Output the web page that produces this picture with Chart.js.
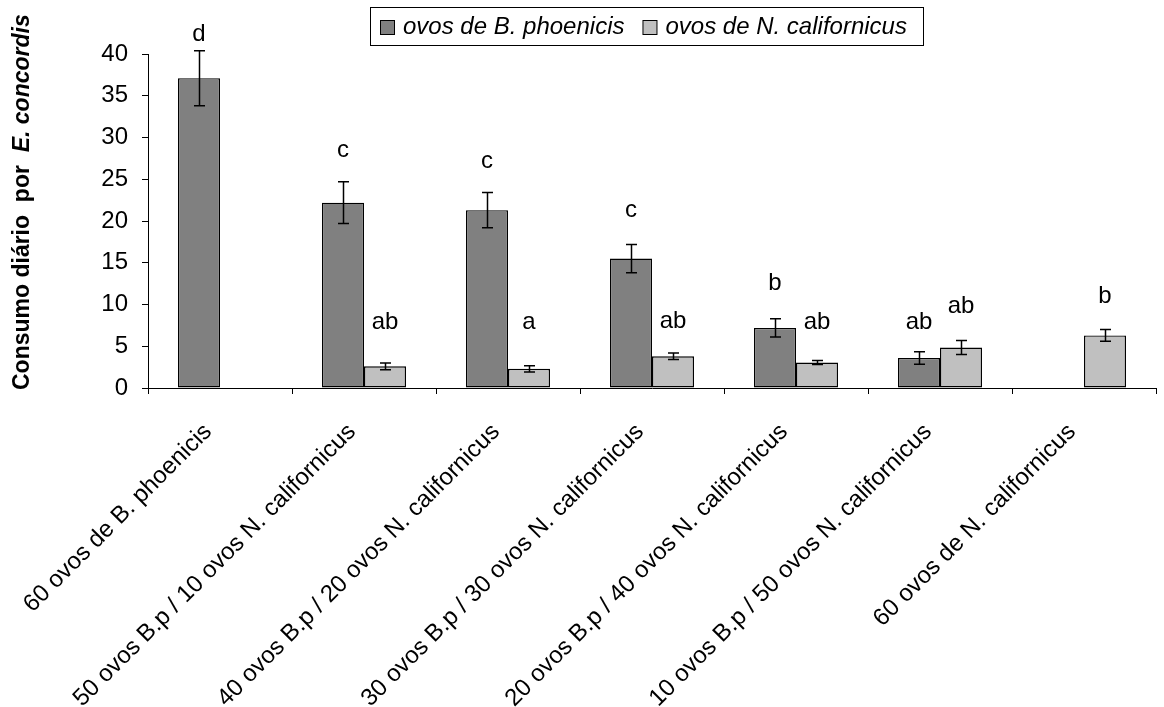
<!DOCTYPE html>
<html>
<head>
<meta charset="utf-8">
<script src="https://cdn.jsdelivr.net/npm/chart.js@4.4.1/dist/chart.umd.min.js"></script>
<style>
html,body{margin:0;padding:0;background:#fff;}
#wrap{width:1164px;height:707px;position:relative;}
</style>
</head>
<body>
<div id="wrap"><canvas id="c" width="1164" height="707"></canvas></div>
<script>
// ---- data ----
const categories = [
  "60 ovos de B. phoenicis",
  "50 ovos B.p / 10 ovos N. californicus",
  "40 ovos B.p / 20 ovos N. californicus",
  "30 ovos B.p / 30 ovos N. californicus",
  "20 ovos B.p / 40 ovos N. californicus",
  "10 ovos B.p / 50 ovos N. californicus",
  "60 ovos de N. californicus"
];
const seriesNames = ["ovos de B. phoenicis", "ovos de N. californicus"];
const bpValues = [37.1, 22.2, 21.3, 15.5, 7.2, 3.6, 0];
const bpErrors = [3.3, 2.5, 2.1, 1.7, 1.1, 0.75, 0];
const ncValues = [0, 2.6, 2.3, 3.8, 3.05, 4.85, 6.3];
const ncErrors = [0, 0.4, 0.37, 0.38, 0.25, 0.85, 0.7];
const bpLetters = ["d", "c", "c", "c", "b", "ab", ""];
const bpLetterY = [42.4, 28.4, 27.2, 21.3, 12.5, 7.9, null];
const ncLetters = ["", "ab", "a", "ab", "ab", "ab", "b"];
const ncLetterY = [null, 7.8, 7.8, 8.0, 7.9, 9.8, 11.0];
const yTicks = [0, 5, 10, 15, 20, 25, 30, 35, 40];
const yTitleMain = "Consumo diário  por  ";
const yTitleItalic = "E. concordis";

const FONT = "'Liberation Sans', Arial, sans-serif";
const DARK = "#808080", LIGHT = "#c0c0c0";

const errorsBySeries = [bpErrors, ncErrors];
const lettersBySeries = [bpLetters, ncLetters];
const letterYBySeries = [bpLetterY, ncLetterY];

const extras = {
  id: 'extras',
  afterDatasetsDraw(chart) {
    const ctx = chart.ctx;
    const ys = chart.scales.y;
    ctx.save();
    // error bars
    chart.data.datasets.forEach((ds, i) => {
      const meta = chart.getDatasetMeta(i);
      meta.data.forEach((el, j) => {
        const e = errorsBySeries[i][j];
        if (!e) return;
        const v = ds.data[j];
        const yt = ys.getPixelForValue(v + e), yb = ys.getPixelForValue(v - e);
        const x = Math.round(el.x) + 0.5;
        ctx.strokeStyle = '#000';
        ctx.lineWidth = 1.5;
        ctx.beginPath();
        ctx.moveTo(x, yt); ctx.lineTo(x, yb);
        ctx.moveTo(x - 5.5, yt); ctx.lineTo(x + 5.5, yt);
        ctx.moveTo(x - 5.5, yb); ctx.lineTo(x + 5.5, yb);
        ctx.stroke();
      });
    });
    // letters
    ctx.fillStyle = '#000';
    ctx.font = "24px " + FONT;
    ctx.textAlign = 'center';
    ctx.textBaseline = 'middle';
    chart.data.datasets.forEach((ds, i) => {
      const meta = chart.getDatasetMeta(i);
      meta.data.forEach((el, j) => {
        const t = lettersBySeries[i][j];
        const ly = letterYBySeries[i][j];
        if (!t || ly == null) return;
        ctx.fillText(t, el.x, ys.getPixelForValue(ly));
      });
    });
    ctx.restore();
  },
  afterDraw(chart) {
    const ctx = chart.ctx;
    ctx.save();
    // y-axis title (mixed style)
    ctx.translate(23, 390);
    ctx.rotate(-Math.PI / 2);
    ctx.textBaseline = 'middle';
    ctx.textAlign = 'left';
    ctx.fillStyle = '#000';
    ctx.font = "bold 23px " + FONT;
    ctx.fillText(yTitleMain, 0, 0);
    const w1 = ctx.measureText(yTitleMain).width;
    ctx.font = "italic bold 23px " + FONT;
    ctx.fillText(yTitleItalic, w1, 0);
    ctx.restore();

    // legend
    ctx.save();
    ctx.font = "italic 24px " + FONT;
    const sq = 14, padL = 10, padR = 16, gapT = 9, gapI = 18;
    const tw = seriesNames.map(s => ctx.measureText(s).width);
    const totalW = padL + sq + gapT + tw[0] + gapI + sq + gapT + tw[1] + padR;
    const left = 370, top = 7, h = 38;
    ctx.strokeStyle = '#000';
    ctx.lineWidth = 1;
    ctx.strokeRect(left + 0.5, top + 0.5, Math.round(totalW), h);
    let x = left + padL;
    const cy = top + h / 2 + 1;
    const cols = [DARK, LIGHT];
    seriesNames.forEach((s, i) => {
      ctx.fillStyle = cols[i];
      ctx.fillRect(x + 0.5, cy - sq / 2 + 0.5, sq, sq);
      ctx.strokeRect(x + 0.5, cy - sq / 2 + 0.5, sq, sq);
      x += sq + gapT;
      ctx.fillStyle = '#000';
      ctx.textBaseline = 'middle';
      ctx.fillText(s, x, cy);
      x += tw[i] + gapI;
    });
    ctx.restore();
  }
};

new Chart(document.getElementById('c'), {
  type: 'bar',
  data: {
    labels: categories,
    datasets: [
      { label: seriesNames[0], data: bpValues, backgroundColor: DARK, borderColor: '#000', borderWidth: 1.4, borderSkipped: false },
      { label: seriesNames[1], data: ncValues, backgroundColor: LIGHT, borderColor: '#000', borderWidth: 1.4, borderSkipped: false }
    ]
  },
  options: {
    responsive: false,
    animation: false,
    devicePixelRatio: 1,
    categoryPercentage: 84 / 144,
    barPercentage: 1.0,
    layout: { padding: { top: 54, right: 8, left: 0, bottom: 0 } },
    plugins: { legend: { display: false }, tooltip: { enabled: false } },
    scales: {
      x: {
        grid: { display: true, offset: true, drawOnChartArea: false, drawTicks: true, tickLength: 6, color: '#000' },
        border: { display: true, color: '#000', width: 1 },
        ticks: {
          autoSkip: false, maxRotation: 45, minRotation: 45, color: '#000', padding: 24, labelOffset: -12,
          font: { family: FONT, size: 24 }
        },
        afterFit(scale) { scale.height = 707 - 388; }
      },
      y: {
        min: 0, max: 40,
        afterBuildTicks(scale) { scale.ticks = yTicks.map(v => ({ value: v })); },
        grid: { display: true, drawOnChartArea: false, drawTicks: true, tickLength: 6, color: '#000' },
        border: { display: true, color: '#000', width: 1 },
        ticks: { color: '#000', padding: 14, font: { family: FONT, size: 24 } },
        afterFit(scale) { scale.width = 148; }
      }
    }
  },
  plugins: [extras]
});
</script>
</body>
</html>
